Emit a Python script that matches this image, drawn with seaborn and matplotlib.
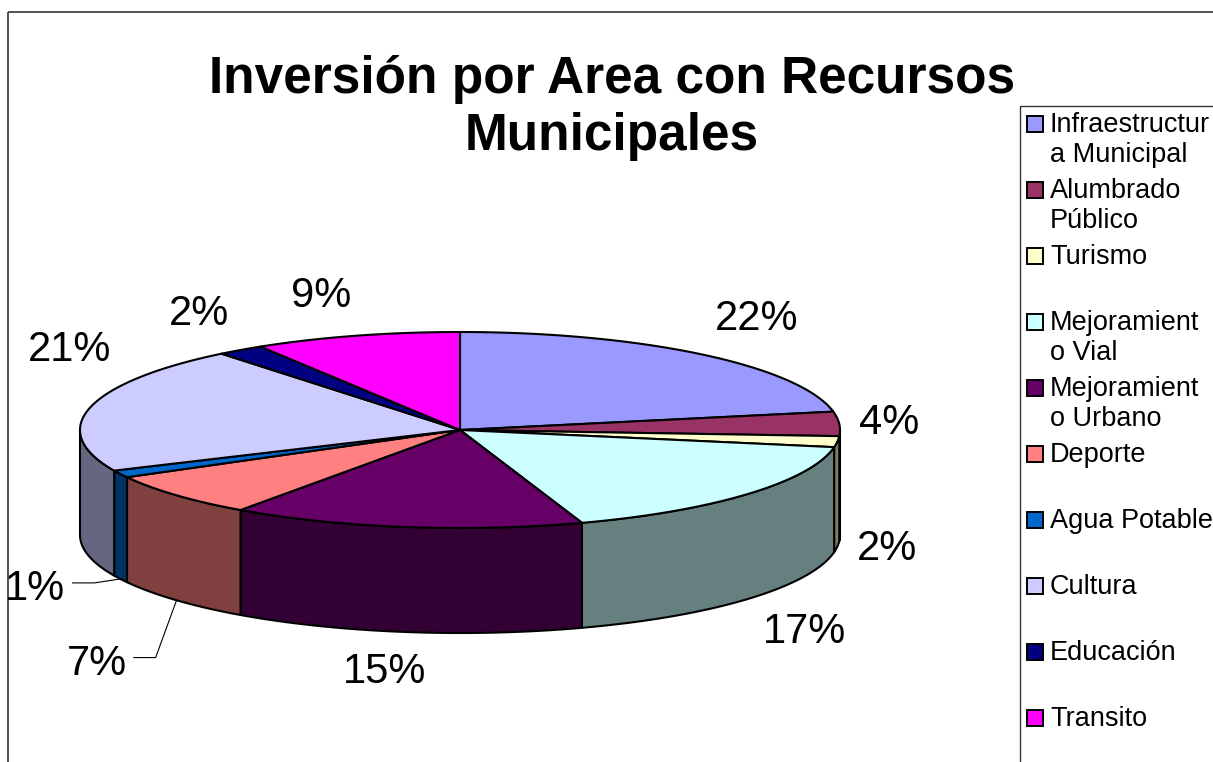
import numpy as np
import matplotlib
matplotlib.use('Agg')
import matplotlib.pyplot as plt
from matplotlib.patches import Polygon, Rectangle
import seaborn as sns

# ── Datos ──
categorias = ['Infraestructura Municipal', 'Alumbrado Público', 'Turismo',
              'Mejoramiento Vial', 'Mejoramiento Urbano', 'Deporte',
              'Agua Potable', 'Cultura', 'Educación', 'Transito']
etiquetas_leyenda = ['Infraestructur\na Municipal', 'Alumbrado\nPúblico', 'Turismo',
                     'Mejoramient\no Vial', 'Mejoramient\no Urbano', 'Deporte',
                     'Agua Potable', 'Cultura', 'Educación', 'Transito']
valores = [22.0, 4.0, 1.8, 17.0, 15.0, 7.2, 1.2, 21.0, 2.0, 8.8]
colores = ['#9999FF', '#993366', '#FFFFCC', '#CCFFFF', '#660066',
           '#FF8080', '#0066CC', '#CCCCFF', '#000080', '#FF00FF']
titulo = 'Inversión por Area con Recursos\nMunicipales'

# ── Geometría del pastel 3D (coordenadas en píxeles) ──
CX, CY = 460, 430
RX, RY = 380, 98
PROF = 105
GAP = 20
# desplazamientos manuales de etiquetas (como en Excel) y línea guía
ajustes = {4: (-18, 0, False), 7: (40, -53, False), 5: (-35, 30, True), 6: (-37, -19, True)}

sns.set_theme(style='white')
plt.rcParams['font.family'] = ['Liberation Sans', 'DejaVu Sans']
plt.rcParams['text.color'] = 'black'

fig = plt.figure(figsize=(12.13, 7.62), dpi=100)
ax = fig.add_axes([0, 0, 1, 1])
ax.set_xlim(0, 1213)
ax.set_ylim(762, 0)
ax.axis('off')


def punto(theta, rx=RX, ry=RY, dy=0):
    t = np.radians(theta)
    return CX + rx * np.sin(t), CY - ry * np.cos(t) + dy


total = sum(valores)
pcts = [v / total * 100 for v in valores]
bordes = np.concatenate([[0], np.cumsum(pcts)]) * 3.6
pal = sns.color_palette(colores)
sombras = [tuple(c * 0.5 for c in col) for col in pal]

# paredes laterales (solo mitad frontal)
for i in range(len(valores)):
    t0, t1 = max(bordes[i], 90), min(bordes[i + 1], 270)
    if t1 <= t0:
        continue
    th = np.linspace(t0, t1, 80)
    xs, ys = punto(th)
    pts = np.column_stack([np.r_[xs, xs[::-1]], np.r_[ys, ys[::-1] + PROF]])
    ax.add_patch(Polygon(pts, closed=True, facecolor=sombras[i],
                         edgecolor='black', lw=1.5, joinstyle='round'))

# caras superiores
for i in range(len(valores)):
    th = np.linspace(bordes[i], bordes[i + 1], 120)
    xs, ys = punto(th)
    pts = np.column_stack([np.r_[CX, xs], np.r_[CY, ys]])
    ax.add_patch(Polygon(pts, closed=True, facecolor=pal[i],
                         edgecolor='black', lw=1.5, joinstyle='round'))

# etiquetas de porcentaje
for i, p in enumerate(pcts):
    mid = (bordes[i] + bordes[i + 1]) / 2
    s, c = np.sin(np.radians(mid)), np.cos(np.radians(mid))
    x, y = punto(mid, RX + GAP, RY + GAP, PROF if c < 0 else 0)
    ha = 'left' if s > 0.2 else ('right' if s < -0.2 else 'center')
    va = 'bottom' if c > 0.3 else ('top' if c < -0.3 else 'center')
    if i in ajustes:
        dx, dy, guia = ajustes[i]
        x, y = x + dx, y + dy
        if guia:
            bx, by = punto(mid, dy=PROF)
            ty = y + 14 if va == 'top' else y
            ax.plot([x + 7, x + 29, bx], [ty, ty, by], color='black', lw=0.8)
    ax.text(x, y, f'{p:.0f}%', ha=ha, va=va, fontsize=30, color='black')

# título
ax.text(612, 108, titulo, ha='center', va='center', fontsize=37,
        fontweight='bold', linespacing=1.2, color='black')

# marco del gráfico
ax.add_patch(Rectangle((8, 12), 1300, 800, fill=False, edgecolor='#333333', lw=1.2))

# leyenda manual (ranuras fijas como en Excel)
ax.add_patch(Rectangle((1020, 106), 300, 700, fill=False, edgecolor='#333333', lw=1.0))
for i, lab in enumerate(etiquetas_leyenda):
    yc = 124 + 66 * i
    ax.add_patch(Rectangle((1027, yc - 8), 16, 16, facecolor=pal[i],
                           edgecolor='black', lw=1.4))
    ax.text(1050, yc - 12, lab, ha='left', va='top', fontsize=19.5,
            linespacing=1.2, color='black')

fig.savefig('out.png', dpi=100)
